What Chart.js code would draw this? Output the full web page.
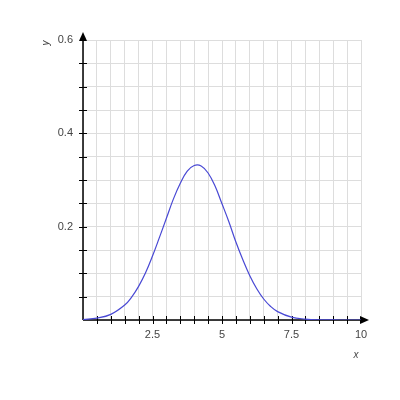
<!DOCTYPE html>
<html>
<head>
<meta charset="utf-8">
<script src="https://cdn.jsdelivr.net/npm/chart.js@4/dist/chart.umd.min.js"></script>
<style>
  body { margin: 0; background: #fff; }
  #wrap { width: 400px; height: 400px; }
</style>
</head>
<body>
<div id="wrap"><canvas id="curveChart"></canvas></div>
<script>
// values
const xValues = [0, 0.5, 1, 1.5, 1.75, 2, 2.25, 2.5, 2.75, 3, 3.25, 3.5, 3.75, 4, 4.25, 4.5, 4.75, 5, 5.25, 5.5, 5.75, 6, 6.25, 6.5, 6.75, 7, 7.5, 8, 8.5, 9, 9.5, 10];
const yValues = [0.001, 0.004, 0.012, 0.032, 0.049, 0.072, 0.101, 0.137, 0.177, 0.218, 0.259, 0.293, 0.319, 0.331, 0.330, 0.315, 0.287, 0.249, 0.210, 0.167, 0.129, 0.095, 0.067, 0.045, 0.029, 0.018, 0.006, 0.002, 0.0004, 0.0001, 0, 0];
const xLabels = [2.5, 5, 7.5, 10];
const yLabels = [0.2, 0.4, 0.6];

Chart.defaults.font.family = "'Liberation Sans', Arial, sans-serif";

const points = xValues.map((x, i) => ({ x: x, y: yValues[i] }));

function isLabel(v, list) {
  return list.some(l => Math.abs(l - v) < 1e-6);
}

// axis lines with crossing ticks, arrows and titles
const axesPlugin = {
  id: 'axes',
  beforeDatasetsDraw(chart) {
    const { ctx, chartArea: a, scales: { x, y } } = chart;
    const x0 = x.getPixelForValue(0);
    const y0 = y.getPixelForValue(0);
    ctx.save();
    ctx.strokeStyle = '#000';
    ctx.lineWidth = 1;
    ctx.beginPath();
    x.ticks.forEach(t => {
      if (t.value <= 0 || t.value >= 10) return;
      const px = Math.round(x.getPixelForValue(t.value)) + 0.5;
      ctx.moveTo(px, y0 - 4);
      ctx.lineTo(px, y0 + 4);
    });
    y.ticks.forEach(t => {
      if (t.value <= 0 || t.value >= 0.6) return;
      const py = Math.round(y.getPixelForValue(t.value)) + 0.5;
      ctx.moveTo(x0 - 4, py);
      ctx.lineTo(x0 + 4, py);
    });
    ctx.stroke();

    ctx.lineWidth = 1.5;
    ctx.beginPath();
    ctx.moveTo(x0, y0);
    ctx.lineTo(a.right, y0);
    ctx.moveTo(x0, y0);
    ctx.lineTo(x0, a.top);
    ctx.stroke();

    ctx.fillStyle = '#000';
    ctx.beginPath();
    ctx.moveTo(a.right + 8, y0);
    ctx.lineTo(a.right - 1, y0 - 4);
    ctx.lineTo(a.right - 1, y0 + 4);
    ctx.closePath();
    ctx.fill();
    ctx.beginPath();
    ctx.moveTo(x0, a.top - 8);
    ctx.lineTo(x0 - 4, a.top + 1);
    ctx.lineTo(x0 + 4, a.top + 1);
    ctx.closePath();
    ctx.fill();

    ctx.fillStyle = '#444';
    ctx.font = "italic 10px 'Liberation Sans', Arial, sans-serif";
    ctx.textAlign = 'center';
    ctx.textBaseline = 'middle';
    ctx.fillText('x', a.right - 5, y0 + 35);
    ctx.translate(46, a.top + 3);
    ctx.rotate(-Math.PI / 2);
    ctx.fillText('y', 0, 0);
    ctx.restore();
  }
};

new Chart(document.getElementById('curveChart'), {
  type: 'scatter',
  data: {
    datasets: [{
      data: points,
      showLine: true,
      borderColor: 'rgb(72, 72, 212)',
      borderWidth: 1.2,
      pointRadius: 0,
      fill: false,
      tension: 0.4
    }]
  },
  options: {
    responsive: true,
    maintainAspectRatio: false,
    animation: false,
    layout: { padding: { top: 40, right: 39, left: 0, bottom: 0 } },
    plugins: {
      legend: { display: false },
      tooltip: { enabled: false }
    },
    scales: {
      x: {
        type: 'linear',
        min: 0,
        max: 10,
        afterFit: s => { s.height = 80; },
        grid: { color: '#dddddd', drawTicks: false },
        border: { display: false },
        ticks: {
          stepSize: 0.5,
          autoSkip: false,
          maxRotation: 0,
          minRotation: 0,
          padding: 8,
          color: '#444',
          font: { size: 11 },
          callback: v => isLabel(v, xLabels) ? String(v) : ''
        }
      },
      y: {
        type: 'linear',
        min: 0,
        max: 0.6,
        afterFit: s => { s.width = 83; },
        grid: { color: '#dddddd', drawTicks: false },
        border: { display: false },
        ticks: {
          stepSize: 0.05,
          autoSkip: false,
          padding: 10,
          color: '#444',
          font: { size: 11 },
          callback: v => isLabel(v, yLabels) ? v.toFixed(1) : ''
        }
      }
    }
  },
  plugins: [axesPlugin]
});
</script>
</body>
</html>
